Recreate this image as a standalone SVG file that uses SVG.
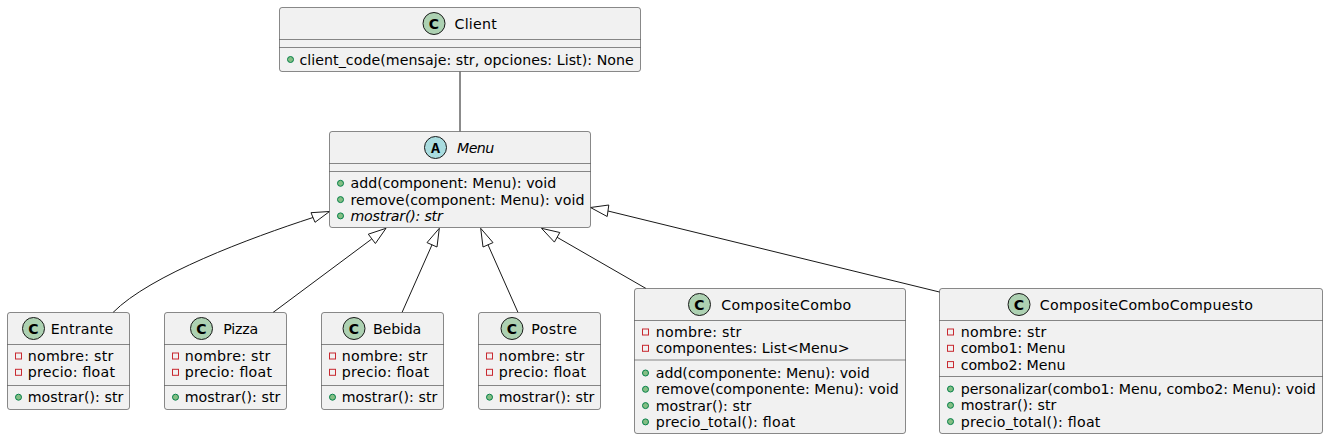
<svg xmlns="http://www.w3.org/2000/svg" width="1328" height="439" viewBox="0 0 1328 439">
<style>
.box{fill:#F1F1F1;stroke:#181818;stroke-width:0.5}
.sep{stroke:#181818;stroke-width:0.5}
.t{font-family:"DejaVu Sans",sans-serif;font-size:14.2px;fill:#000}
.it{font-style:italic}
.ci{fill:#ADD1B2;stroke:#181818;stroke-width:1}
.ca{fill:#A9DCDF;stroke:#181818;stroke-width:1}
.cl{font-family:"DejaVu Sans",sans-serif;font-size:14px;font-weight:bold;fill:#000;text-anchor:middle}
.al{font-family:"Liberation Mono","DejaVu Sans Mono",monospace;font-size:15px;font-weight:bold;fill:#000;text-anchor:middle}
.pub{fill:#84BE84;stroke:#038048;stroke-width:1}
.priv{fill:none;stroke:#C82930;stroke-width:1}
.e{fill:none;stroke:#181818;stroke-width:1}
.h{fill:none;stroke:#181818;stroke-width:1}
</style>
<g id="connectors">
<path class="e" d="M460,71.5 L460,131.5"/>
<path class="e" d="M313,217.5 C250,238 150,275 113,312.5"/>
<polygon class="h" points="329.5,211.5 311,212.7 315,222.3"/>
<path class="e" d="M371.6,239.1 L273,312.5"/>
<polygon class="h" points="386,228.3 368.3,234.2 375.4,243.5"/>
<path class="e" d="M432,244.8 L402,312.5"/>
<polygon class="h" points="439.3,228.3 427,242.6 437,247"/>
<path class="e" d="M488,244.8 L518,312.5"/>
<polygon class="h" points="480.7,228.3 483,247 493,242.6"/>
<path class="e" d="M557.1,237.3 L646,288.5"/>
<polygon class="h" points="541.5,228.3 559.8,232.5 554.4,242.1"/>
<path class="e" d="M608,211 L941.5,292.5"/>
<polygon class="h" points="590.5,207.5 608.8,205 607.2,216.5"/>
</g>
<g id="Client">
<rect class="box" x="279.5" y="7.5" width="361" height="64" rx="2.5"/>
<circle class="ci" cx="434" cy="23.5" r="11"/>
<text class="cl" x="434" y="28.5">C</text>
<text class="t" x="454.5" y="28.5" textLength="42.3">Client</text>
<line class="sep" x1="279.5" y1="39.5" x2="640.5" y2="39.5"/>
<line class="sep" x1="279.5" y1="47.5" x2="640.5" y2="47.5"/>
<circle class="pub" cx="290.5" cy="59.5" r="3"/>
<text class="t" x="299.5" y="64.5" textLength="334.3">client_code(mensaje: str, opciones: List): None</text>
</g>
<g id="Menu">
<rect class="box" x="329.5" y="131.5" width="261" height="96" rx="2.5"/>
<circle class="ca" cx="435.5" cy="147.5" r="11"/>
<text class="al" x="435.5" y="152.5">A</text>
<text class="t it" x="457" y="152.5" textLength="37.3">Menu</text>
<line class="sep" x1="329.5" y1="163.5" x2="590.5" y2="163.5"/>
<line class="sep" x1="329.5" y1="171.5" x2="590.5" y2="171.5"/>
<circle class="pub" cx="340.5" cy="183.3" r="3"/>
<text class="t" x="350.5" y="188.3" textLength="205.7">add(component: Menu): void</text>
<circle class="pub" cx="340.5" cy="199.6" r="3"/>
<text class="t" x="350.5" y="204.6" textLength="234">remove(component: Menu): void</text>
<circle class="pub" cx="340.5" cy="215.9" r="3"/>
<text class="t it" x="350.5" y="220.9" textLength="92.3">mostrar(): str</text>
</g>
<g id="Entrante">
<rect class="box" x="7.5" y="312.5" width="122" height="97" rx="2.5"/>
<circle class="ci" cx="33.5" cy="328.5" r="11"/>
<text class="cl" x="33.5" y="333.5">C</text>
<text class="t" x="50.7" y="333.5" textLength="62.6">Entrante</text>
<line class="sep" x1="7.5" y1="344.5" x2="129.5" y2="344.5"/>
<rect class="priv" x="15.5" y="353" width="6" height="6"/>
<text class="t" x="27.7" y="361" textLength="85.7">nombre: str</text>
<rect class="priv" x="15.5" y="369.3" width="6" height="6"/>
<text class="t" x="27.7" y="377.3" textLength="87.3">precio: float</text>
<line class="sep" x1="7.5" y1="385.5" x2="129.5" y2="385.5"/>
<circle class="pub" cx="18.5" cy="397.2" r="3"/>
<text class="t" x="27.7" y="402.2" textLength="95.7">mostrar(): str</text>
</g>
<g id="Pizza">
<rect class="box" x="164.5" y="312.5" width="122" height="97" rx="2.5"/>
<circle class="ci" cx="201.5" cy="328.5" r="11"/>
<text class="cl" x="201.5" y="333.5">C</text>
<text class="t" x="223.3" y="333.5" textLength="35">Pizza</text>
<line class="sep" x1="164.5" y1="344.5" x2="286.5" y2="344.5"/>
<rect class="priv" x="172.5" y="353" width="6" height="6"/>
<text class="t" x="184.7" y="361" textLength="85.7">nombre: str</text>
<rect class="priv" x="172.5" y="369.3" width="6" height="6"/>
<text class="t" x="184.7" y="377.3" textLength="87.3">precio: float</text>
<line class="sep" x1="164.5" y1="385.5" x2="286.5" y2="385.5"/>
<circle class="pub" cx="175.5" cy="397.2" r="3"/>
<text class="t" x="184.7" y="402.2" textLength="95.7">mostrar(): str</text>
</g>
<g id="Bebida">
<rect class="box" x="321.5" y="312.5" width="122" height="97" rx="2.5"/>
<circle class="ci" cx="354" cy="328.5" r="11"/>
<text class="cl" x="354" y="333.5">C</text>
<text class="t" x="373" y="333.5" textLength="48.3">Bebida</text>
<line class="sep" x1="321.5" y1="344.5" x2="443.5" y2="344.5"/>
<rect class="priv" x="329.5" y="353" width="6" height="6"/>
<text class="t" x="341.7" y="361" textLength="85.7">nombre: str</text>
<rect class="priv" x="329.5" y="369.3" width="6" height="6"/>
<text class="t" x="341.7" y="377.3" textLength="87.3">precio: float</text>
<line class="sep" x1="321.5" y1="385.5" x2="443.5" y2="385.5"/>
<circle class="pub" cx="332.5" cy="397.2" r="3"/>
<text class="t" x="341.7" y="402.2" textLength="95.7">mostrar(): str</text>
</g>
<g id="Postre">
<rect class="box" x="478.5" y="312.5" width="122" height="97" rx="2.5"/>
<circle class="ci" cx="512" cy="328.5" r="11"/>
<text class="cl" x="512" y="333.5">C</text>
<text class="t" x="531.3" y="333.5" textLength="45.7">Postre</text>
<line class="sep" x1="478.5" y1="344.5" x2="600.5" y2="344.5"/>
<rect class="priv" x="486.5" y="353" width="6" height="6"/>
<text class="t" x="498.7" y="361" textLength="85.7">nombre: str</text>
<rect class="priv" x="486.5" y="369.3" width="6" height="6"/>
<text class="t" x="498.7" y="377.3" textLength="87.3">precio: float</text>
<line class="sep" x1="478.5" y1="385.5" x2="600.5" y2="385.5"/>
<circle class="pub" cx="489.5" cy="397.2" r="3"/>
<text class="t" x="498.7" y="402.2" textLength="95.7">mostrar(): str</text>
</g>
<g id="CompositeCombo">
<rect class="box" x="634.5" y="288.5" width="271" height="145" rx="2.5"/>
<circle class="ci" cx="699.5" cy="304.5" r="11"/>
<text class="cl" x="699.5" y="309.5">C</text>
<text class="t" x="721.3" y="309.5" textLength="130">CompositeCombo</text>
<line class="sep" x1="634.5" y1="320.5" x2="905.5" y2="320.5"/>
<rect class="priv" x="642.5" y="329" width="6" height="6"/>
<text class="t" x="655.7" y="337" textLength="85.7">nombre: str</text>
<rect class="priv" x="642.5" y="345.3" width="6" height="6"/>
<text class="t" x="655.7" y="353.3" textLength="194">componentes: List&lt;Menu&gt;</text>
<line class="sep" x1="634.5" y1="360" x2="905.5" y2="360"/>
<circle class="pub" cx="645.5" cy="373" r="3"/>
<text class="t" x="655.7" y="378" textLength="214">add(componente: Menu): void</text>
<circle class="pub" cx="645.5" cy="389.3" r="3"/>
<text class="t" x="655.7" y="394.3" textLength="243">remove(componente: Menu): void</text>
<circle class="pub" cx="645.5" cy="405.6" r="3"/>
<text class="t" x="655.7" y="410.6" textLength="95.7">mostrar(): str</text>
<circle class="pub" cx="645.5" cy="421.9" r="3"/>
<text class="t" x="655.7" y="426.9" textLength="139.7">precio_total(): float</text>
</g>
<g id="CompositeComboCompuesto">
<rect class="box" x="939.5" y="288.5" width="383" height="145" rx="2.5"/>
<circle class="ci" cx="1019" cy="304.5" r="11"/>
<text class="cl" x="1019" y="309.5">C</text>
<text class="t" x="1039.7" y="309.5" textLength="213.3">CompositeComboCompuesto</text>
<line class="sep" x1="939.5" y1="320.5" x2="1322.5" y2="320.5"/>
<rect class="priv" x="947.5" y="329" width="6" height="6"/>
<text class="t" x="960.7" y="337" textLength="85.7">nombre: str</text>
<rect class="priv" x="947.5" y="345.3" width="6" height="6"/>
<text class="t" x="960.7" y="353.3" textLength="104.7">combo1: Menu</text>
<rect class="priv" x="947.5" y="361.6" width="6" height="6"/>
<text class="t" x="960.7" y="369.6" textLength="104.7">combo2: Menu</text>
<line class="sep" x1="939.5" y1="376.5" x2="1322.5" y2="376.5"/>
<circle class="pub" cx="950.5" cy="389" r="3"/>
<text class="t" x="960.7" y="394" textLength="355">personalizar(combo1: Menu, combo2: Menu): void</text>
<circle class="pub" cx="950.5" cy="405.3" r="3"/>
<text class="t" x="960.7" y="410.3" textLength="95.7">mostrar(): str</text>
<circle class="pub" cx="950.5" cy="421.6" r="3"/>
<text class="t" x="960.7" y="426.6" textLength="139.7">precio_total(): float</text>
</g>
</svg>
